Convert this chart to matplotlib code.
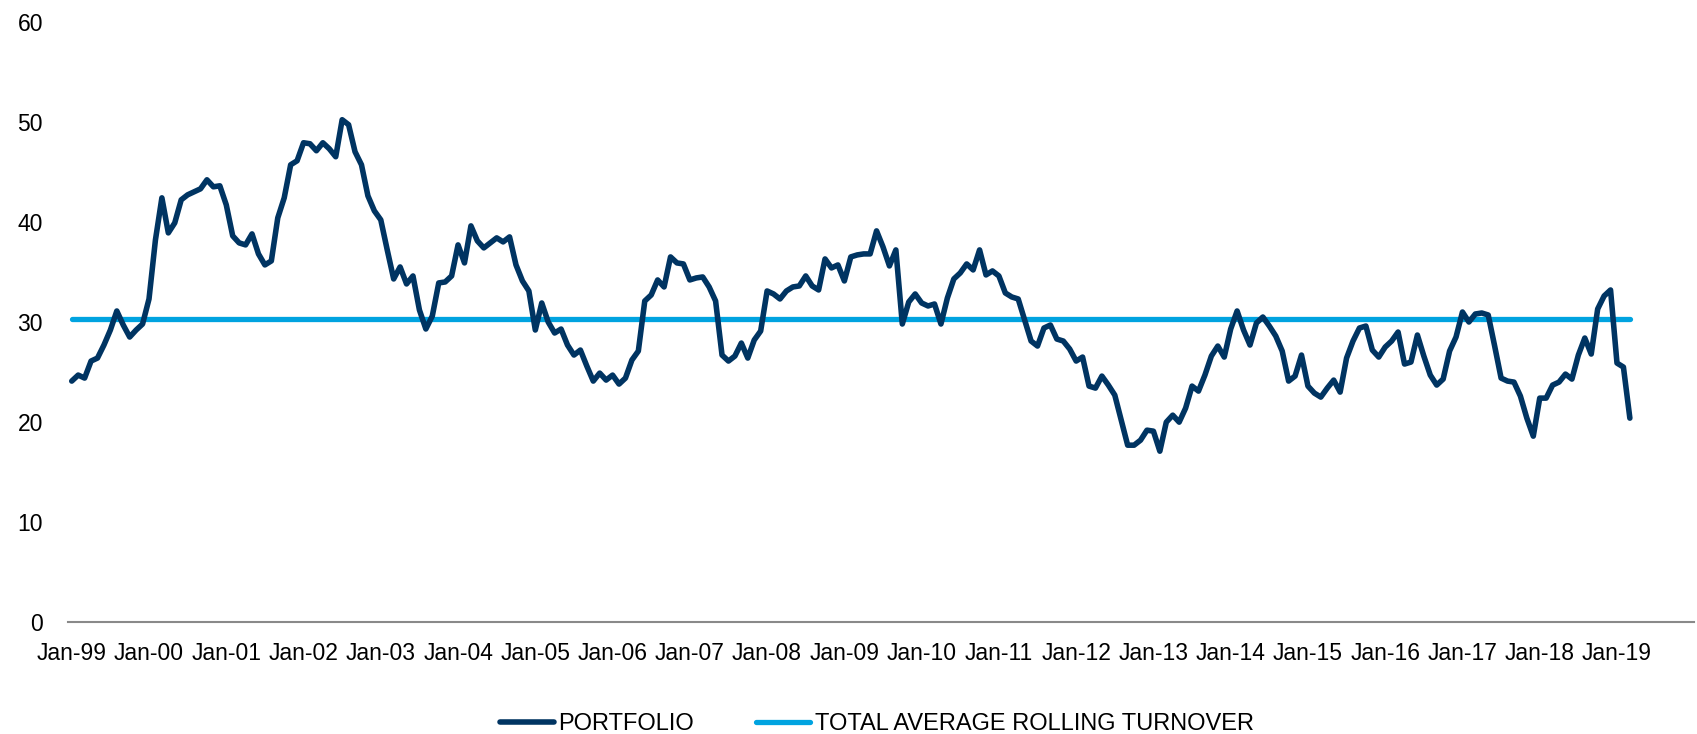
import matplotlib.pyplot as plt

plt.rcParams['font.family'] = ['Liberation Sans', 'DejaVu Sans']

# monthly rolling turnover, Jan-99 .. Mar-19
portfolio = [
    24.1, 24.7, 24.4, 26.1, 26.4, 27.7, 29.2, 31.1, 29.7, 28.5, 29.2, 29.8,
    32.3, 38.2, 42.4, 38.9, 39.9, 42.2, 42.7, 43.0, 43.3, 44.2, 43.5, 43.6,
    41.7, 38.6, 37.9, 37.7, 38.8, 36.8, 35.7, 36.1, 40.4, 42.4, 45.7, 46.1,
    47.9, 47.8, 47.1, 47.9, 47.3, 46.5, 50.2, 49.7, 47.0, 45.7, 42.6, 41.1,
    40.2, 37.2, 34.3, 35.5, 33.8, 34.6, 31.2, 29.3, 30.6, 33.9, 34.0, 34.6,
    37.7, 35.9, 39.6, 38.1, 37.4, 37.9, 38.4, 38.0, 38.5, 35.7, 34.1, 33.1,
    29.2, 31.9, 30.0, 28.9, 29.3, 27.7, 26.7, 27.2, 25.6, 24.1, 24.9, 24.2,
    24.7, 23.8, 24.4, 26.2, 27.1, 32.1, 32.7, 34.2, 33.5, 36.5, 35.9, 35.8,
    34.2, 34.4, 34.5, 33.5, 32.1, 26.7, 26.1, 26.6, 27.9, 26.4, 28.2, 29.1,
    33.1, 32.8, 32.3, 33.1, 33.5, 33.6, 34.6, 33.6, 33.2, 36.3, 35.4, 35.7,
    34.1, 36.5, 36.7, 36.8, 36.8, 39.1, 37.5, 35.6, 37.2, 29.8, 32.0, 32.8,
    31.9, 31.6, 31.8, 29.8, 32.4, 34.3, 34.9, 35.8, 35.2, 37.2, 34.7, 35.1,
    34.6, 32.9, 32.5, 32.3, 30.2, 28.1, 27.6, 29.4, 29.7, 28.3, 28.1, 27.3,
    26.1, 26.5, 23.6, 23.4, 24.6, 23.7, 22.7, 20.2, 17.7, 17.7, 18.2, 19.2,
    19.1, 17.1, 20.0, 20.7, 20.0, 21.4, 23.6, 23.1, 24.7, 26.6, 27.6, 26.5,
    29.3, 31.1, 29.2, 27.7, 29.9, 30.5, 29.6, 28.6, 27.1, 24.1, 24.6, 26.7,
    23.6, 22.9, 22.5, 23.4, 24.2, 23.0, 26.4, 28.1, 29.4, 29.6, 27.2, 26.5,
    27.5, 28.1, 29.0, 25.8, 26.0, 28.7, 26.6, 24.7, 23.7, 24.3, 27.1, 28.5,
    31.0, 30.0, 30.8, 30.9, 30.7, 27.6, 24.4, 24.1, 24.0, 22.6, 20.4, 18.6,
    22.4, 22.4, 23.7, 24.0, 24.8, 24.3, 26.7, 28.4, 26.8, 31.3, 32.6, 33.2,
    25.9, 25.5, 20.4,
]
average_turnover = 30.3
year_labels = ['Jan-%02d' % (y % 100) for y in range(1999, 2020)]

months = list(range(len(portfolio)))
average_line = [average_turnover] * len(portfolio)

fig = plt.figure(figsize=(16.97, 7.34), dpi=100)
ax = fig.add_axes([0.040, 0.152, 0.958, 0.8186])

ax.plot(months, portfolio, color='#003462', lw=4.0, solid_capstyle='round',
        solid_joinstyle='round', label='PORTFOLIO', zorder=3)
ax.plot(months, average_line, color='#00A3E0', lw=3.8, solid_capstyle='round',
        label='TOTAL AVERAGE ROLLING TURNOVER', zorder=2)

ax.set_ylim(0, 60)
ax.set_yticks(range(0, 61, 10))
ax.set_xlim(-0.6, 251.9)
ax.set_xticks(range(0, 12 * len(year_labels), 12))
ax.set_xticklabels(year_labels)

for side in ['top', 'right', 'left']:
    ax.spines[side].set_visible(False)
ax.spines['bottom'].set_color('#898989')
ax.spines['bottom'].set_linewidth(1.5)
ax.tick_params(axis='both', length=0, labelsize=16.5, colors='black')
ax.tick_params(axis='y', pad=18)
ax.tick_params(axis='x', pad=14)

ax.legend(loc='center', bbox_to_anchor=(0.5166, 0.0133), bbox_transform=fig.transFigure,
          ncol=2, frameon=False, fontsize=17, handlelength=2.3, handletextpad=0.2,
          columnspacing=2.6, borderpad=0)

fig.savefig('out.png', dpi=100)
